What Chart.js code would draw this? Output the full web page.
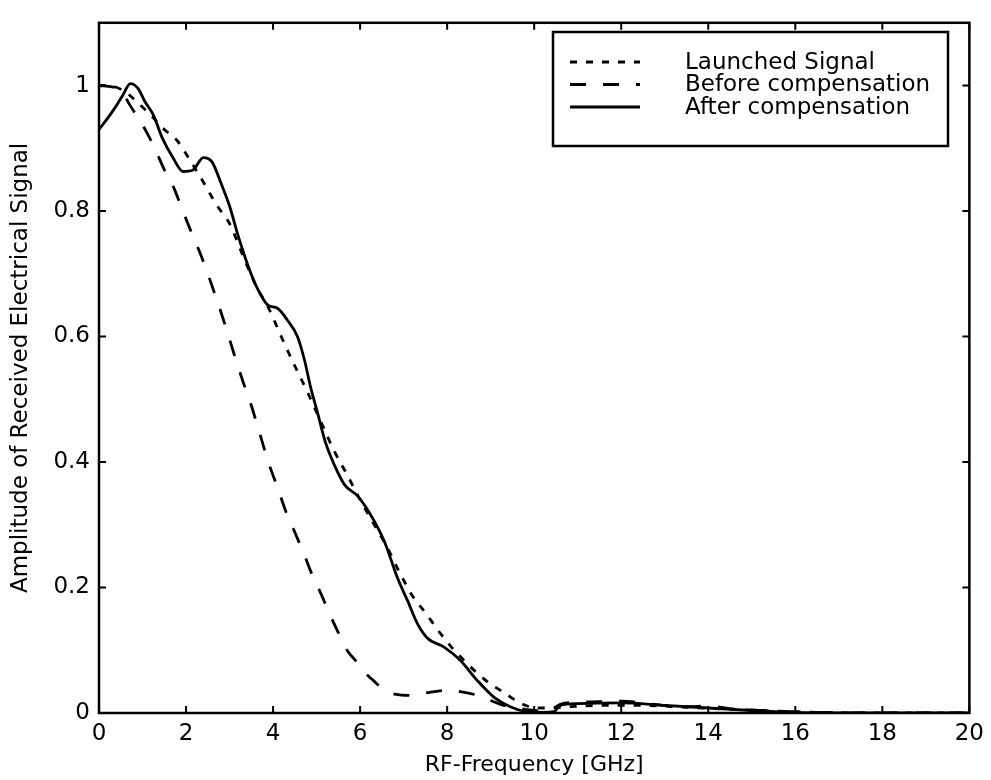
<!DOCTYPE html>
<html>
<head>
    <title>Amplitude of Received Electrical Signal</title>
    <script src="https://cdn.jsdelivr.net/npm/chart.js"></script>
    <style>
        body {
            margin: 0;
            background-color: #ffffff;
        }
        canvas {
            display: block;
        }
    </style>
</head>
<body>
    <canvas id="ampChart" width="991" height="780"></canvas>

    <script>
        // values
        var launchedFreq = [0, 0.3, 0.6, 0.9, 1.2, 1.5, 1.8, 2.1, 2.4, 2.7, 3.0, 3.3, 3.6, 3.9, 4.2, 4.5, 4.8, 5.1, 5.4, 5.7, 6.0, 6.3, 6.6, 6.9, 7.2, 7.5, 7.8, 8.1, 8.4, 8.7, 9.0, 9.3, 9.6, 9.9, 10.3, 10.8, 11.5, 12.5, 13.5, 14.5, 15.5, 16.5, 18, 20];
        var launchedAmp = [1.0, 0.999, 0.99, 0.972, 0.952, 0.93, 0.912, 0.88, 0.846, 0.81, 0.78, 0.73, 0.682, 0.645, 0.598, 0.553, 0.51, 0.464, 0.418, 0.38, 0.34, 0.303, 0.267, 0.225, 0.187, 0.16, 0.131, 0.105, 0.083, 0.063, 0.046, 0.033, 0.019, 0.01, 0.008, 0.01, 0.012, 0.012, 0.009, 0.006, 0.003, 0.001, 0, 0];

        var beforeFreq = [0, 0.3, 0.5, 0.7, 0.9, 1.1, 1.3, 1.5, 1.7, 1.9, 2.1, 2.3, 2.5, 2.7, 2.9, 3.1, 3.3, 3.5, 3.7, 3.9, 4.1, 4.3, 4.5, 4.7, 4.9, 5.1, 5.3, 5.5, 5.7, 5.9, 6.1, 6.3, 6.5, 6.8, 7.2, 7.6, 8.0, 8.4, 8.7, 9.0, 9.3, 9.6, 10.0, 10.3, 10.6, 11.0, 11.5, 12.0, 12.5, 13.0, 13.5, 14.0, 14.5, 15.0, 15.5, 16.5, 18, 20];
        var beforeAmp = [1.0, 0.998, 0.993, 0.97, 0.948, 0.925, 0.897, 0.866, 0.84, 0.805, 0.77, 0.737, 0.7, 0.66, 0.618, 0.573, 0.53, 0.49, 0.444, 0.398, 0.36, 0.32, 0.288, 0.255, 0.22, 0.19, 0.158, 0.128, 0.1, 0.083, 0.065, 0.052, 0.04, 0.03, 0.028, 0.033, 0.036, 0.033, 0.028, 0.02, 0.012, 0.008, 0.004, 0.003, 0.014, 0.017, 0.018, 0.019, 0.016, 0.012, 0.01, 0.011, 0.007, 0.005, 0.003, 0.001, 0, 0];

        var afterFreq = [0, 0.2, 0.4, 0.55, 0.72, 0.9, 1.05, 1.25, 1.45, 1.7, 1.93, 2.15, 2.4, 2.6, 2.8, 3.0, 3.2, 3.45, 3.65, 3.88, 4.1, 4.33, 4.56, 4.72, 4.86, 5.02, 5.2, 5.41, 5.64, 5.94, 6.24, 6.56, 6.86, 7.09, 7.32, 7.55, 7.93, 8.3, 8.69, 9.08, 9.45, 9.84, 10.2, 10.45, 10.6, 11, 12, 13, 14, 15, 16, 18, 20];
        var afterAmp = [0.93, 0.948, 0.968, 0.985, 1.003, 0.995, 0.975, 0.953, 0.917, 0.885, 0.863, 0.865, 0.885, 0.878, 0.845, 0.808, 0.76, 0.708, 0.675, 0.65, 0.645, 0.626, 0.6, 0.563, 0.52, 0.479, 0.432, 0.395, 0.364, 0.346, 0.316, 0.273, 0.215, 0.179, 0.142, 0.119, 0.105, 0.084, 0.052, 0.025, 0.01, 0.002, 0.001, 0.002, 0.012, 0.015, 0.016, 0.012, 0.008, 0.004, 0.001, 0, 0];

        var xTicks = [0, 2, 4, 6, 8, 10, 12, 14, 16, 18, 20];
        var yTicks = [0, 0.2, 0.4, 0.6, 0.8, 1];

        var FONT = '"DejaVu Sans", Verdana, sans-serif';

        function toPoints(xs, ys) {
            return xs.map(function(x, i) { return {x: x, y: ys[i]}; });
        }

        // matlab style box with inward ticks on all four sides
        var boxPlugin = {
            id: 'boxPlugin',
            afterDraw: function(chart) {
                var ctx = chart.ctx;
                var a = chart.chartArea;
                var xs = chart.scales.x, ys = chart.scales.y;
                var len = 7;
                ctx.save();
                ctx.strokeStyle = '#000';
                ctx.lineWidth = 2.5;
                ctx.strokeRect(a.left, a.top, a.right - a.left, a.bottom - a.top);
                ctx.lineWidth = 2;
                ctx.beginPath();
                xTicks.forEach(function(v) {
                    var px = xs.getPixelForValue(v);
                    ctx.moveTo(px, a.bottom); ctx.lineTo(px, a.bottom - len);
                    ctx.moveTo(px, a.top); ctx.lineTo(px, a.top + len);
                });
                yTicks.forEach(function(v) {
                    var py = ys.getPixelForValue(v);
                    ctx.moveTo(a.left, py); ctx.lineTo(a.left + len, py);
                    ctx.moveTo(a.right, py); ctx.lineTo(a.right - len, py);
                });
                ctx.stroke();
                ctx.restore();
            }
        };

        var legendPlugin = {
            id: 'legendPlugin',
            afterDraw: function(chart) {
                var ctx = chart.ctx;
                var bx = 553, by = 32, bw = 395, bh = 114;
                ctx.save();
                ctx.fillStyle = '#fff';
                ctx.fillRect(bx, by, bw, bh);
                ctx.strokeStyle = '#000';
                ctx.lineWidth = 2.5;
                ctx.strokeRect(bx, by, bw, bh);
                ctx.font = '23px ' + FONT;
                ctx.textBaseline = 'middle';
                ctx.fillStyle = '#000';
                chart.data.datasets.forEach(function(ds, i) {
                    var y = 62 + i * 22.5;
                    ctx.beginPath();
                    ctx.setLineDash(ds.borderDash || []);
                    ctx.lineWidth = ds.borderWidth;
                    ctx.moveTo(570, y);
                    ctx.lineTo(640, y);
                    ctx.stroke();
                    ctx.setLineDash([]);
                    ctx.fillText(ds.label, 685, y + 1);
                });
                ctx.restore();
            }
        };

        var ctx = document.getElementById('ampChart').getContext('2d');
        var chart = new Chart(ctx, {
            type: 'line',
            data: {
                datasets: [{
                    label: 'Launched Signal',
                    data: toPoints(launchedFreq, launchedAmp),
                    borderColor: '#000',
                    borderWidth: 2.8,
                    borderDash: [7, 9],
                    pointRadius: 0,
                    cubicInterpolationMode: 'monotone'
                }, {
                    label: 'Before compensation',
                    data: toPoints(beforeFreq, beforeAmp),
                    borderColor: '#000',
                    borderWidth: 2.8,
                    borderDash: [16, 17],
                    pointRadius: 0,
                    cubicInterpolationMode: 'monotone'
                }, {
                    label: 'After compensation',
                    data: toPoints(afterFreq, afterAmp),
                    borderColor: '#000',
                    borderWidth: 2.8,
                    pointRadius: 0,
                    cubicInterpolationMode: 'monotone'
                }]
            },
            options: {
                responsive: false,
                animation: false,
                maintainAspectRatio: false,
                devicePixelRatio: 1,
                layout: {
                    padding: {top: 14, right: 20, bottom: 0, left: 0}
                },
                plugins: {
                    legend: {display: false},
                    tooltip: {enabled: false}
                },
                scales: {
                    x: {
                        type: 'linear',
                        min: 0,
                        max: 20,
                        grid: {display: false, drawTicks: false},
                        border: {display: false},
                        afterBuildTicks: function(scale) {
                            scale.ticks = xTicks.map(function(v) { return {value: v}; });
                        },
                        afterFit: function(scale) {
                            scale.height = 67;
                        },
                        ticks: {
                            padding: 7,
                            color: '#000',
                            autoSkip: false,
                            maxRotation: 0,
                            font: {family: FONT, size: 23},
                            callback: function(v) { return String(v); }
                        },
                        title: {
                            display: true,
                            text: 'RF-Frequency [GHz]',
                            color: '#000',
                            font: {family: FONT, size: 22},
                            padding: {top: 0, bottom: 2}
                        }
                    },
                    y: {
                        type: 'linear',
                        min: 0,
                        max: 1.1,
                        grid: {display: false, drawTicks: false},
                        border: {display: false},
                        afterBuildTicks: function(scale) {
                            scale.ticks = yTicks.map(function(v) { return {value: v}; });
                        },
                        afterFit: function(scale) {
                            scale.width = 99;
                        },
                        ticks: {
                            padding: 9,
                            color: '#000',
                            autoSkip: false,
                            font: {family: FONT, size: 23},
                            callback: function(v) { return String(Math.round(v * 10) / 10); }
                        },
                        title: {
                            display: true,
                            text: 'Amplitude of Received Electrical Signal',
                            color: '#000',
                            font: {family: FONT, size: 23},
                            padding: {top: 7, bottom: 0}
                        }
                    }
                }
            },
            plugins: [boxPlugin, legendPlugin]
        });
    </script>
</body>
</html>
